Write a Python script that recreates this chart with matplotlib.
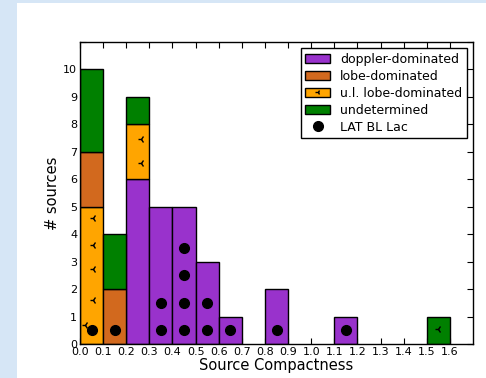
import numpy as np
import matplotlib
matplotlib.use("Agg")
import matplotlib.pyplot as plt
from matplotlib.patches import Patch, Rectangle
from matplotlib.lines import Line2D

# Histogram bins of source compactness
bin_edges = [0.0, 0.1, 0.2, 0.3, 0.4, 0.5, 0.6, 0.7, 0.8, 0.9,
             1.0, 1.1, 1.2, 1.3, 1.4, 1.5, 1.6]
doppler = [0, 0, 6, 5, 5, 3, 1, 0, 2, 0, 0, 1, 0, 0, 0, 0]
ul_lobe = [5, 0, 2, 0, 0, 0, 0, 0, 0, 0, 0, 0, 0, 0, 0, 0]
lobe = [2, 2, 0, 0, 0, 0, 0, 0, 0, 0, 0, 0, 0, 0, 0, 0]
undetermined = [3, 2, 1, 0, 0, 0, 0, 0, 0, 0, 0, 0, 0, 0, 0, 1]

# Upper-limit sources (compactness, stack height)
ul_x = [0.055, 0.055, 0.055, 0.055, 0.022, 0.265, 0.262, 1.55]
ul_y = [4.6, 3.6, 2.75, 1.6, 0.7, 7.45, 6.6, 0.55]

# LAT BL Lac sources
bllac_x = [0.05, 0.15, 0.35, 0.35, 0.45, 0.45, 0.45, 0.45,
           0.55, 0.55, 0.65, 0.85, 1.15]
bllac_y = [0.5, 0.5, 0.5, 1.5, 0.5, 1.5, 2.5, 3.5,
           0.5, 1.5, 0.5, 0.5, 0.5]

c_doppler = "#9932CC"
c_lobe = "#D2691E"
c_ul = "#FFA500"
c_undet = "#008000"

fig = plt.figure(figsize=(4.86, 3.78), dpi=100, facecolor="#d6e6f6")
fig.patches.append(Rectangle((17 / 486, 0), 1, 1 - 3 / 378,
                             transform=fig.transFigure,
                             facecolor="white", edgecolor="none",
                             zorder=-10))

ax = fig.add_axes([80 / 486, 1 - 344 / 378, 393 / 486, 302 / 378])

left = np.array(bin_edges[:-1])
width = 0.1
bottom = np.zeros(len(left))
for vals, col in [(doppler, c_doppler), (ul_lobe, c_ul),
                  (lobe, c_lobe), (undetermined, c_undet)]:
    v = np.array(vals, dtype=float)
    mask = v > 0
    ax.bar(left[mask], v[mask], width=width, bottom=bottom[mask],
           align="edge", color=col, edgecolor="black", linewidth=1.0,
           zorder=2)
    bottom += v

ax.plot(ul_x, ul_y, linestyle="none", marker="3", color="black",
        markersize=5, markeredgewidth=1.0, zorder=3)
ax.plot(bllac_x, bllac_y, linestyle="none", marker="o", color="black",
        markersize=7, zorder=4)

ax.set_xlim(0, 1.7)
ax.set_ylim(0, 11)
ax.set_xticks(np.arange(0, 1.65, 0.1))
ax.set_xticklabels([f"{t:.1f}" for t in np.arange(0, 1.65, 0.1)])
ax.set_yticks(range(0, 12))
ax.set_yticklabels([str(i) for i in range(0, 11)] + [""])
ax.tick_params(direction="in", top=True, right=True, length=4,
               labelsize=8, pad=2)
for s in ax.spines.values():
    s.set_linewidth(1.0)

ax.set_xlabel("Source Compactness", fontsize=10.5, labelpad=1)
ax.set_ylabel("# sources", fontsize=10.5, labelpad=2)

handles = [
    Patch(facecolor=c_doppler, edgecolor="black"),
    Patch(facecolor=c_lobe, edgecolor="black"),
    (Patch(facecolor=c_ul, edgecolor="black"),
     Line2D([], [], linestyle="none", marker="3", color="black",
            markersize=4)),
    Patch(facecolor=c_undet, edgecolor="black"),
    Line2D([], [], linestyle="none", marker="o", color="black",
           markersize=7),
]
labels = ["doppler-dominated", "lobe-dominated", "u.l. lobe-dominated",
          "undetermined", "LAT BL Lac"]
leg = ax.legend(handles, labels, loc="upper right", fontsize=9,
                fancybox=False, framealpha=1, edgecolor="black",
                borderaxespad=0.5, borderpad=0.35, handlelength=2.0,
                labelspacing=0.32, handletextpad=0.8)
leg.get_frame().set_linewidth(1.0)

fig.savefig("out.png", dpi=100, facecolor=fig.get_facecolor())
